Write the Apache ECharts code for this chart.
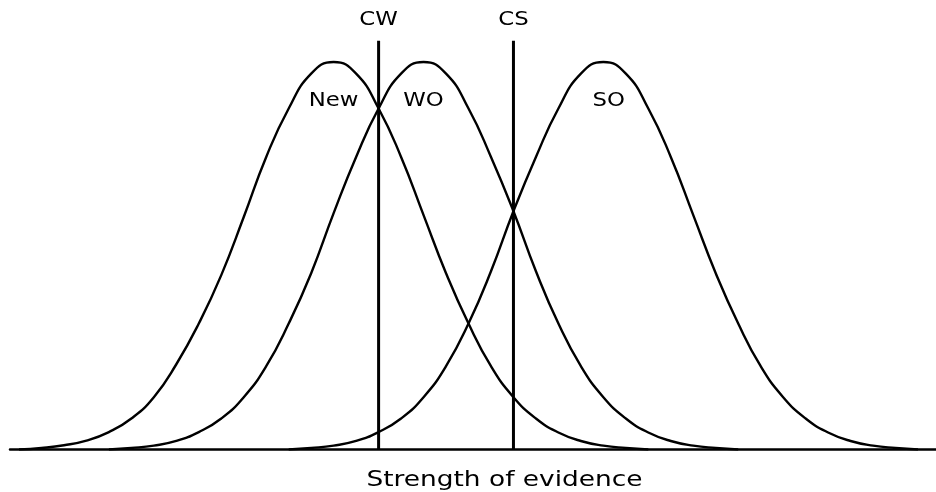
<!DOCTYPE html>
<html>
<head>
<meta charset="utf-8">
<style>
  html, body { margin: 0; padding: 0; background: #ffffff; }
  #chart { width: 936px; height: 492px; }
</style>
<script src="https://cdn.jsdelivr.net/npm/echarts@6/dist/echarts.min.js"></script>
</head>
<body>
<div id="chart"></div>
<script>
// Strength-of-evidence distributions for three item classes
const newX = [-7, -6.5, -6, -5.5, -5, -4.5, -4, -3.5, -3, -2.5, -2, -1.5, -1, -0.5, 0, 0.5, 1, 1.5, 2, 2.5, 3, 3.5, 4, 4.5, 5, 5.5, 6, 6.5, 7];
const newY = [0, 0.004, 0.011, 0.023, 0.045, 0.08, 0.135, 0.22, 0.325, 0.45, 0.6, 0.755, 0.88, 0.97, 1, 0.97, 0.88, 0.755, 0.605, 0.455, 0.325, 0.215, 0.135, 0.08, 0.044, 0.022, 0.01, 0.004, 0];

const woX = [-5, -4.5, -4, -3.5, -3, -2.5, -2, -1.5, -1, -0.5, 0, 0.5, 1, 1.5, 2, 2.5, 3, 3.5, 4, 4.5, 5, 5.5, 6, 6.5, 7, 7.5, 8, 8.5, 9];
const woY = [0, 0.004, 0.01, 0.022, 0.045, 0.08, 0.135, 0.215, 0.325, 0.455, 0.61, 0.755, 0.88, 0.97, 1, 0.97, 0.88, 0.755, 0.615, 0.46, 0.325, 0.215, 0.135, 0.08, 0.044, 0.022, 0.01, 0.004, 0];

const soX = [-1, -0.5, 0, 0.5, 1, 1.5, 2, 2.5, 3, 3.5, 4, 4.5, 5, 5.5, 6, 6.5, 7, 7.5, 8, 8.5, 9, 9.5, 10, 10.5, 11, 11.5, 12, 12.5, 13];
const soY = [0, 0.004, 0.01, 0.022, 0.045, 0.08, 0.135, 0.215, 0.325, 0.46, 0.615, 0.755, 0.88, 0.97, 1, 0.97, 0.88, 0.755, 0.605, 0.455, 0.325, 0.215, 0.135, 0.08, 0.044, 0.022, 0.01, 0.004, 0];

// Decision criteria (weak and strong)
const criterionNames = ['CW', 'CS'];
const criterionX = [1, 4];
const criterionTop = 1.055;

// Curve labels
const curveNames = ['New', 'WO', 'SO'];
const curveLabelX = [0, 2, 6.12];
const curveLabelY = [0.9, 0.9, 0.9];

const axisTitle = 'Strength of evidence';

const FONT = 'DejaVu Sans';
const TEXT_STRETCH = 1.2;   // wide lettering
const zip = (xs, ys) => xs.map((x, i) => [x, ys[i]]);

const curveStyle = {
  type: 'line',
  smooth: true,
  showSymbol: false,
  symbol: 'none',
  lineStyle: { color: '#000', width: 2.4 },
  z: 3,
  silent: true
};

const series = [
  Object.assign({ name: 'New', data: zip(newX, newY) }, curveStyle),
  Object.assign({ name: 'WO', data: zip(woX, woY) }, curveStyle),
  Object.assign({ name: 'SO', data: zip(soX, soY) }, curveStyle)
];

criterionNames.forEach((name, i) => {
  series.push({
    name: name,
    type: 'line',
    symbol: 'none',
    silent: true,
    lineStyle: { color: '#000', width: 3 },
    z: 4,
    data: [[criterionX[i], 0], [criterionX[i], criterionTop]]
  });
});

const chart = echarts.init(document.getElementById('chart'), null, { renderer: 'canvas' });
chart.setOption({
  animation: false,
  backgroundColor: '#fff',
  grid: { left: 10, right: 0, top: 23.25, bottom: 42.5, containLabel: false },
  xAxis: {
    type: 'value',
    min: -7.2,
    max: 13.4,
    axisLine: { show: true, onZero: false, lineStyle: { color: '#000', width: 2.5 } },
    axisTick: { show: false },
    axisLabel: { show: false },
    splitLine: { show: false }
  },
  yAxis: {
    type: 'value',
    min: 0,
    max: 1.1,
    show: false,
    splitLine: { show: false }
  },
  series: series
});

// Text: stretched horizontally, placed from the axis scales
function stretchedText(text, px, py, size) {
  return {
    type: 'text',
    x: px,
    y: py,
    scaleX: TEXT_STRETCH,
    silent: true,
    z: 10,
    style: {
      text: text,
      fill: '#000',
      font: size + 'px "' + FONT + '"',
      textAlign: 'center',
      textVerticalAlign: 'middle'
    }
  };
}

const texts = [];
criterionNames.forEach((name, i) => {
  const p = chart.convertToPixel({ gridIndex: 0 }, [criterionX[i], criterionTop]);
  texts.push(stretchedText(name, p[0], p[1] - 21, 19));
});
curveNames.forEach((name, i) => {
  const p = chart.convertToPixel({ gridIndex: 0 }, [curveLabelX[i], curveLabelY[i]]);
  texts.push(stretchedText(name, p[0], p[1], 19));
});
// axis title below the baseline
const base = chart.convertToPixel({ gridIndex: 0 }, [3.8, 0]);
texts.push(stretchedText(axisTitle, base[0], base[1] + 31, 22));

chart.setOption({ graphic: texts });
</script>
</body>
</html>
